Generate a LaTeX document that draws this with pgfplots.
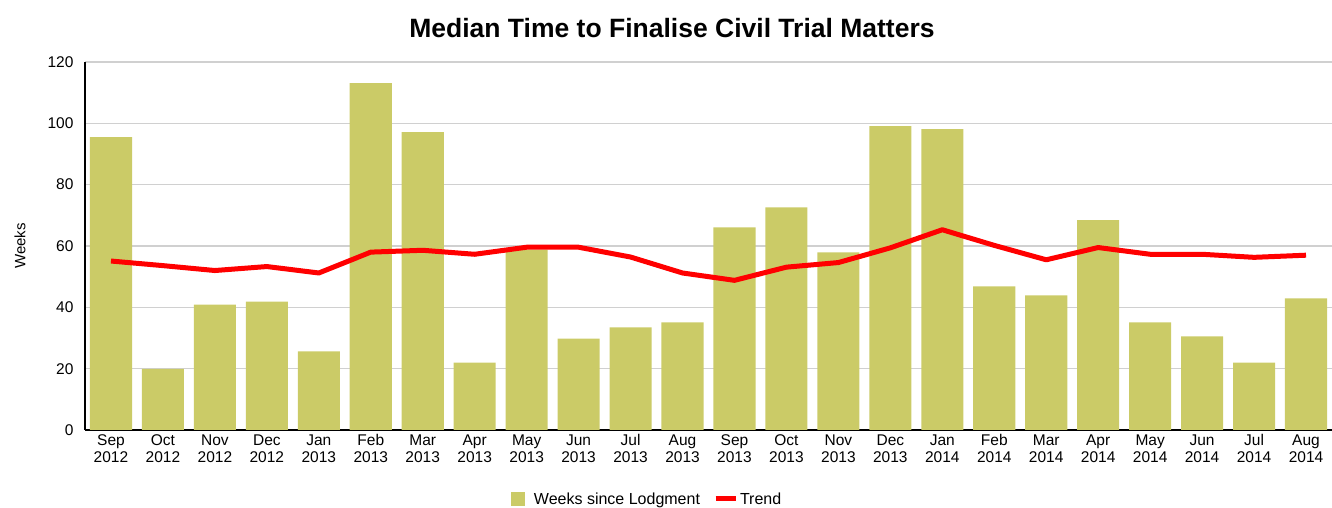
\documentclass[border=0pt]{standalone}
\usepackage{pgfplots}
\pgfplotsset{compat=1.18}
\usepackage{fontspec}
\setmainfont{Liberation Sans}
\definecolor{barcol}{HTML}{CBCB67}
\definecolor{gridcol}{HTML}{D0D0D0}
\begin{document}
\begin{tikzpicture}
\useasboundingbox (0,0) rectangle (1332pt,508pt);
\begin{axis}[
  at={(85pt,78pt)}, anchor=south west,
  scale only axis, width=1247pt, height=368pt,
  xmin=-0.5, xmax=23.5, ymin=0, ymax=120,
  ytick={0,20,...,120},
  xtick={0,...,23},
  xticklabels={Sep\\2012,Oct\\2012,Nov\\2012,Dec\\2012,Jan\\2013,Feb\\2013,Mar\\2013,Apr\\2013,May\\2013,Jun\\2013,Jul\\2013,Aug\\2013,Sep\\2013,Oct\\2013,Nov\\2013,Dec\\2013,Jan\\2014,Feb\\2014,Mar\\2014,Apr\\2014,May\\2014,Jun\\2014,Jul\\2014,Aug\\2014},
  xticklabel style={align=center, font=\fontsize{15.5}{17}\selectfont, yshift=-1pt},
  yticklabel style={font=\fontsize{15.5}{17}\selectfont, xshift=-8pt},
  /pgf/number format/assume math mode=true,
  axis x line=bottom, axis y line=left,
  axis line style={-, black, line width=1.5pt},
  major tick length=0pt,
  ymajorgrids, grid style={gridcol, line width=1.2pt},
  ylabel={Weeks},
  ylabel style={at={(axis description cs:-0.0521,0.5)}, anchor=center, font=\fontsize{15}{17}\selectfont},
  title={\textbf{Median Time to Finalise Civil Trial Matters}},
  title style={at={(axis description cs:0.4707,1)}, anchor=center, yshift=28pt, font=\fontsize{26.5}{30}\selectfont},
  legend style={at={(axis description cs:0.4506,0)}, anchor=center, yshift=-69pt, draw=none, legend columns=2,
    font=\fontsize{16}{18}\selectfont,
    nodes={inner sep=2pt},
    /tikz/every even column/.append style={column sep=11pt}},
  clip=false,
]
\addplot[ybar, bar width=0.81, fill=barcol, draw=none, bar shift=0pt, forget plot] coordinates {
(0,95.5) (1,19.9) (2,40.9) (3,41.9) (4,25.6) (5,113.1) (6,97.1) (7,22.0) (8,58.8) (9,29.8) (10,33.5) (11,35.1) (12,66.1) (13,72.6) (14,57.9) (15,99.1) (16,98.1) (17,46.8) (18,43.9) (19,68.4) (20,35.1) (21,30.5) (22,22.0) (23,42.9)};
\addplot[red, line width=5pt, mark=none, line join=round, forget plot] coordinates {
(0,55.1) (1,53.6) (2,52.0) (3,53.3) (4,51.2) (5,58.0) (6,58.6) (7,57.3) (8,59.6) (9,59.6) (10,56.4) (11,51.2) (12,48.8) (13,53.1) (14,54.6) (15,59.4) (16,65.3) (17,60.2) (18,55.5) (19,59.5) (20,57.3) (21,57.3) (22,56.3) (23,57.0)};
\addlegendimage{legend image code/.code={\fill[barcol] (0pt,-6.5pt) rectangle (13pt,6.5pt); \path (21pt,0pt);}}
\addlegendentry{Weeks since Lodgment}
\addlegendimage{legend image code/.code={\draw[red, line width=5pt] (0pt,0pt) -- (20pt,0pt); \path (21pt,0pt);}}
\addlegendentry{Trend}
\end{axis}
\end{tikzpicture}
\end{document}
